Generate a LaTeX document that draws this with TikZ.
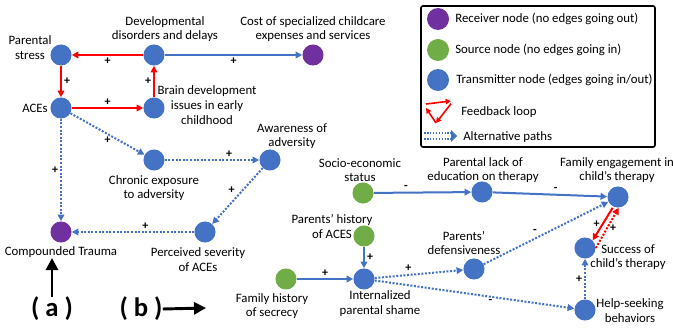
\documentclass[tikz,border=0pt]{standalone}
\usepackage{fontspec}
\setmainfont{Carlito}
\usepackage{tikz}
\usetikzlibrary{arrows.meta,positioning}
\definecolor{nblue}{HTML}{4472C4}
\definecolor{ngreen}{HTML}{70AD47}
\definecolor{npurple}{HTML}{7030A0}
\definecolor{nred}{HTML}{FF0000}
\tikzset{
  cnode/.style={circle,inner sep=0pt,minimum size=15.8pt,draw=none},
  transmitter/.style={cnode,fill=nblue},
  source/.style={cnode,fill=ngreen},
  receiver/.style={cnode,fill=npurple},
  lbl/.style={align=center,font=\fontsize{9.6}{11}\selectfont,inner sep=0pt},
  sgn/.style={font=\fontsize{9}{10}\selectfont\bfseries,inner sep=1.5pt},
  blueedge/.style={draw=nblue,line width=1.5pt,-{Triangle[length=5pt,width=5pt]}},
  altedge/.style={blueedge,dash pattern=on 1.5pt off 1.2pt},
  rededge/.style={draw=nred,line width=1.5pt,-{Triangle[length=5pt,width=5pt]}},
  redalt/.style={rededge,dash pattern=on 1.5pt off 1.2pt}
}
\begin{document}
\begin{tikzpicture}[x=0.75pt,y=-0.75pt]
  \useasboundingbox (0,0) rectangle (673,328);

  % nodes of (a)
  \node[transmitter] at (61,55) (pstress) {};
  \node[transmitter] at (154,55) (devdis) {};
  \node[receiver] at (313,55) (cost) {};
  \node[transmitter] at (61,108) (aces) {};
  \node[transmitter] at (154,108) (brain) {};
  \node[transmitter] at (154,160) (chronic) {};
  \node[transmitter] at (270,160) (aware) {};
  \node[receiver] at (61,232) (trauma) {};
  \node[transmitter] at (205,232) (severity) {};

  \node[lbl] at (30,47.5) (pstresslbl) {Parental\\stress};
  \node[lbl] at (165,29) (devdislbl) {Developmental\\disorders and delays};
  \node[lbl] at (313,29) (costlbl) {Cost of specialized childcare\\expenses and services};
  \node[lbl,anchor=east] at (48,108) (aceslbl) {ACEs};
  \node[lbl] at (207,105) (brainlbl) {Brain development\\issues in early\\childhood};
  \node[lbl] at (292,136) (awarelbl) {Awareness of\\adversity};
  \node[lbl] at (154,188) (chroniclbl) {Chronic exposure\\to adversity};
  \node[lbl] at (61,252) (traumalbl) {Compounded Trauma};
  \node[lbl] at (198,259.5) (severitylbl) {Perceived severity\\of ACEs};

  % nodes of (b)
  \node[source] at (286,279) (secrecy) {};
  \node[source] at (363,193) (socio) {};
  \node[transmitter] at (482,192) (lackedu) {};
  \node[transmitter] at (618,197) (engage) {};
  \node[source] at (364,236) (phistory) {};
  \node[transmitter] at (364,279) (shame) {};
  \node[transmitter] at (474,269) (defens) {};
  \node[transmitter] at (585,248) (success) {};
  \node[transmitter] at (585,310) (helpseek) {};

  \node[lbl] at (272,306) (secrecylbl) {Family history\\of secrecy};
  \node[lbl] at (360,170) (sociolbl) {Socio-economic\\status};
  \node[lbl] at (483,170) (lackedulbl) {Parental lack of\\education on therapy};
  \node[lbl] at (617,170) (engagelbl) {Family engagement in\\child’s therapy};
  \node[lbl] at (332,226.5) (phistorylbl) {Parents’ history\\of ACES};
  \node[lbl] at (464,243) (defenslbl) {Parents’\\defensiveness};
  \node[lbl] at (380,303.5) (shamelbl) {Internalized\\parental shame};
  \node[lbl] at (628,257) (successlbl) {Success of\\child’s therapy};
  \node[lbl] at (630,310.5) (helpseeklbl) {Help-seeking\\behaviors};

  % edges of (a)
  \draw[rededge] (devdis) -- node[sgn,below] {+} (pstress);
  \draw[blueedge] (devdis) -- node[sgn,below] {+} (cost);
  \draw[rededge] (pstress) -- node[sgn,right] {+} (aces);
  \draw[rededge] (brain) -- node[sgn,left] {+} (devdis);
  \draw[rededge] (aces) -- node[sgn,above] {+} (brain);
  \draw[altedge] (aces) -- node[sgn,below,pos=0.5] {+} (chronic);
  \draw[altedge] (chronic) -- node[sgn,above,pos=0.68] {+} (aware);
  \draw[altedge] (aces) -- node[sgn,left] {+} (trauma);
  \draw[altedge] (aware) -- node[sgn,above left,pos=0.5] {+} (severity);
  \draw[altedge] (severity) -- node[sgn,above,pos=0.4] {+} (trauma);

  % edges of (b)
  \draw[blueedge] (secrecy) -- node[sgn,above] {+} (shame);
  \draw[blueedge] (phistory) -- node[sgn,right] {+} (shame);
  \draw[altedge] (shame) -- node[sgn,above,pos=0.38] {+} (defens);
  \draw[altedge] (shame) -- node[sgn,below,pos=0.58] {-} (helpseek);
  \draw[altedge] (defens) -- node[sgn,above left,pos=0.45] {-} (engage);
  \draw[blueedge] (socio) -- node[sgn,above,pos=0.33] {-} (lackedu);
  \draw[blueedge] (lackedu) -- node[sgn,above,pos=0.55] {-} (engage);
  \draw[rededge] ([xshift=-4pt]engage.south) -- node[sgn,left] {+} (success.north east);
  \draw[redalt] (success.east) -- node[sgn,right] {+} ([xshift=0.5pt]engage.south);
  \draw[altedge] (helpseek) -- node[sgn,left] {+} (success);

  % legend
  \draw[line width=1.2pt,rounded corners=1.5pt] (421,6) rectangle (655,147);
  \node[receiver,minimum size=16.5pt] at (438,19) (legrec) {};
  \node[source,minimum size=16.5pt] at (438,50) (legsrc) {};
  \node[transmitter,minimum size=16.5pt] at (438,80) (legtrans) {};
  \node[lbl,anchor=west] at (455,19) (legrectxt) {Receiver node (no edges going out)};
  \node[lbl,anchor=west] at (455,50) (legsrctxt) {Source node (no edges going in)};
  \node[lbl,anchor=west] at (456,80) (legtranstxt) {Transmitter node (edges going in/out)};
  \coordinate (fbA) at (426,104);
  \coordinate (fbB) at (451,101);
  \coordinate (fbC) at (436,123);
  \draw[draw=nred,line width=1.2pt,-{Triangle[length=4pt,width=4pt]}] (fbA) -- (fbB);
  \draw[draw=nred,line width=1.2pt,-{Triangle[length=4pt,width=4pt]}] ([yshift=-2pt]fbB) -- (fbC);
  \draw[draw=nred,line width=1.2pt,-{Triangle[length=4pt,width=4pt]}] (fbC) -- ([yshift=-3pt]fbA);
  \node[lbl,anchor=west] at (461,112) (legfbtxt) {Feedback loop};
  \coordinate (altA) at (424,133);
  \coordinate (altB) at (451,133);
  \coordinate (altC) at (424,139);
  \coordinate (altD) at (451,139);
  \draw[draw=nblue,line width=1.2pt,dash pattern=on 1.2pt off 1pt] (altA) -- (altB);
  \draw[draw=nblue,line width=1.2pt,dash pattern=on 1.2pt off 1pt] (altC) -- (altD);
  \fill[nblue] (451,130) -- (457,136) -- (451,142) -- cycle;
  \node[lbl,anchor=west] at (463,137) (legalttxt) {Alternative paths};

  % panel marks
  \node[font=\fontsize{20}{24}\selectfont\bfseries,inner sep=0pt] at (52,309) (pa) {( a )};
  \coordinate (paTip) at (52,258);
  \draw[line width=2.2pt,-{Triangle[length=9pt,width=9pt]}] (pa.north) -- (paTip);
  \node[font=\fontsize{20}{24}\selectfont\bfseries,inner sep=0pt] at (141,309) (pb) {( b )};
  \coordinate (pbTip) at (206,308);
  \draw[line width=2.2pt,-{Triangle[length=9pt,width=9pt]}] (pb.east) -- (pbTip);
\end{tikzpicture}
\end{document}
